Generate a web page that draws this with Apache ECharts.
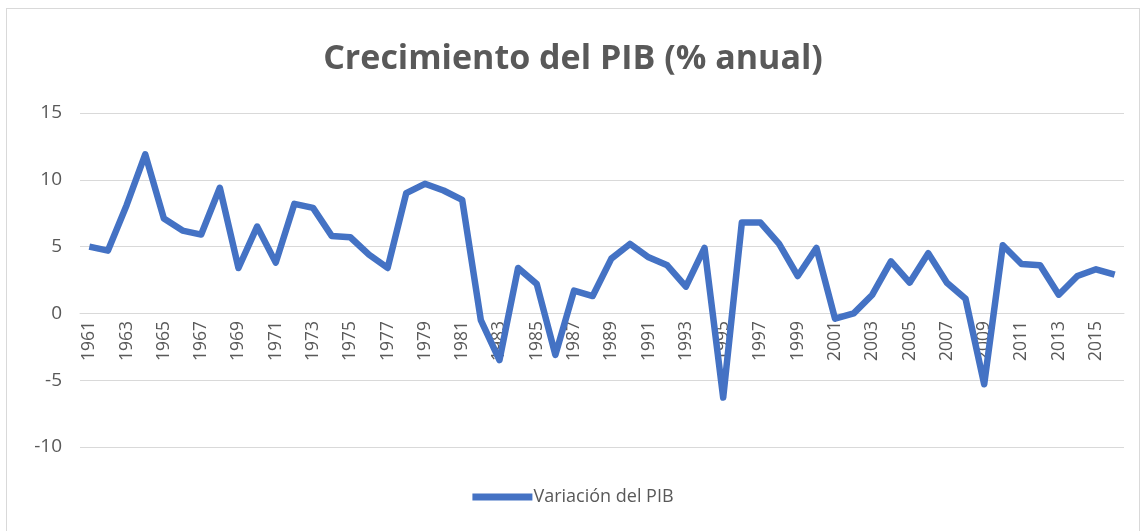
<!DOCTYPE html>
<html><head><meta charset="utf-8">
<script src="https://cdn.jsdelivr.net/npm/echarts@6/dist/echarts.min.js"></script>
<style>
html,body{margin:0;padding:0;background:#fff;}
#frame{position:absolute;left:6px;top:8px;width:1134px;height:540px;border:1px solid #d9d9d9;box-sizing:border-box;}
#c{position:absolute;left:0;top:0;width:1146px;height:531px;}
</style></head><body>
<div id="frame"></div>
<div id="c"></div>
<script>
const years = [];
for (let y = 1961; y <= 2016; y++) years.push(String(y));
const growth = [5.0,4.7,8.1,11.9,7.1,6.2,5.9,9.4,3.4,6.5,3.8,8.2,7.9,5.8,5.7,4.4,3.4,9.0,9.7,9.2,8.5,-0.5,-3.5,3.4,2.2,-3.1,1.7,1.3,4.1,5.2,4.2,3.6,2.0,4.9,-6.3,6.8,6.8,5.2,2.8,4.9,-0.4,0.0,1.4,3.9,2.3,4.5,2.3,1.1,-5.3,5.1,3.7,3.6,1.4,2.8,3.3,2.9];
const titleText = 'Crecimiento del PIB (% anual)';
const seriesName = 'Variación del PIB';

const chart = echarts.init(document.getElementById('c'));
chart.setOption({
  animation: false,
  title: {text: titleText, left: 'center', top: 37,
    textStyle: {fontFamily: 'Open Sans', fontWeight: 'bold', fontSize: 34, color: '#595959'}},
  legend: {bottom: 20, left: 'center', itemWidth: 60, itemHeight: 7, itemGap: 0,
    icon: 'rect',
    textStyle: {fontFamily: 'Open Sans', fontSize: 18, color: '#595959', padding: [0,0,0,-4]},
    data: [seriesName]},
  grid: {left: 80, right: 22, top: 113, bottom: 84},
  xAxis: {type: 'category', data: years, boundaryGap: true, position: 'bottom', offset: -134,
    axisLine: {onZero: false, lineStyle: {color: '#d9d9d9', width: 1}},
    axisTick: {show: false},
    axisLabel: {rotate: 90, interval: 1, fontFamily: 'Open Sans', fontSize: 17.5, color: '#595959', margin: 8}},
  yAxis: {type: 'value', min: -10, max: 15, interval: 5,
    axisLine: {show: false}, axisTick: {show: false},
    axisLabel: {fontFamily: 'Open Sans', fontSize: 19, color: '#595959', margin: 18},
    splitLine: {lineStyle: {color: '#d9d9d9', width: 1}}},
  series: [{name: seriesName, type: 'line', data: growth, symbol: 'none', z: 10,
    lineStyle: {color: '#4472C4', width: 6.5, join: 'round'}, itemStyle: {color: '#4472C4'}}]
});
</script>
</body></html>
